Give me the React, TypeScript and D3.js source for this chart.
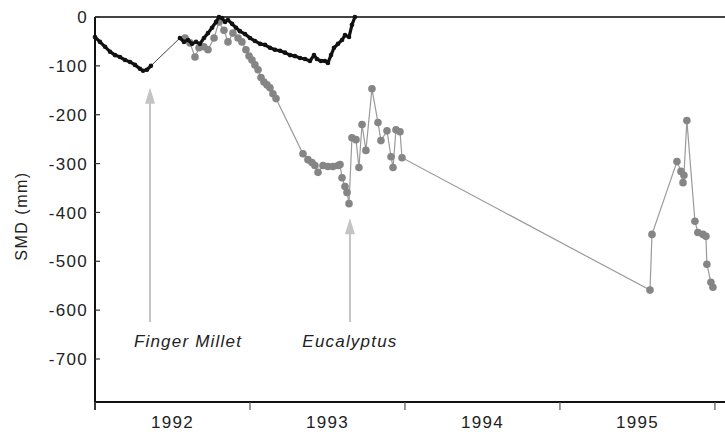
import React, { useEffect, useRef } from 'react';
import * as d3 from 'd3';

// soil moisture deficit, finger millet plot (black) - decimal years
const milletEarlyYears = [1992.0, 1992.032, 1992.065, 1992.097, 1992.129, 1992.161, 1992.194, 1992.226, 1992.258, 1992.29, 1992.31, 1992.335, 1992.361];
const milletEarlySmd = [-41, -51, -61, -71, -78, -82, -88, -92, -98, -106, -110, -108, -100];

const milletLateYears = [
  1992.548, 1992.574, 1992.6, 1992.626, 1992.652, 1992.677, 1992.703, 1992.729, 1992.755, 1992.781,
  1992.8, 1992.819, 1992.839, 1992.858, 1992.884, 1992.91, 1992.935, 1992.968, 1993.0, 1993.032,
  1993.065, 1993.097, 1993.129, 1993.161, 1993.194, 1993.226, 1993.258, 1993.29, 1993.323, 1993.355,
  1993.387, 1993.413, 1993.432, 1993.458, 1993.484, 1993.503, 1993.523, 1993.542, 1993.568, 1993.594,
  1993.613, 1993.639, 1993.658, 1993.677,
];
const milletLateSmd = [
  -43, -51, -47, -55, -51, -55, -43, -33, -22, -10,
  0, -2, -10, -6, -14, -22, -29, -35, -43, -49,
  -55, -57, -63, -67, -69, -73, -78, -80, -84, -86,
  -90, -78, -86, -90, -90, -94, -78, -63, -55, -47,
  -37, -41, -16, 0,
];

// eucalyptus plot (grey circles)
const eucYears = [
  1992.581, 1992.613, 1992.645, 1992.671, 1992.703, 1992.729, 1992.768, 1992.8, 1992.832, 1992.858,
  1992.89, 1992.923, 1992.948, 1992.974, 1992.994, 1993.013, 1993.032, 1993.052, 1993.071, 1993.09,
  1993.11, 1993.129, 1993.148, 1993.168, 1993.342, 1993.374, 1993.4, 1993.419, 1993.439, 1993.471,
  1993.503, 1993.535, 1993.568, 1993.581, 1993.594, 1993.613, 1993.626, 1993.639, 1993.658, 1993.684,
  1993.703, 1993.723, 1993.748, 1993.787, 1993.826, 1993.845, 1993.884, 1993.91, 1993.923, 1993.942,
  1993.968, 1993.981, 1995.581, 1995.594, 1995.755, 1995.781, 1995.794, 1995.8, 1995.819, 1995.871,
  1995.89, 1995.923, 1995.942, 1995.948, 1995.974, 1995.987,
];
const eucSmd = [
  -43, -53, -82, -63, -61, -67, -43, -10, -27, -51,
  -33, -43, -51, -67, -80, -88, -98, -108, -124, -133,
  -139, -145, -157, -167, -280, -292, -298, -304, -318, -304,
  -306, -306, -304, -302, -329, -347, -359, -382, -247, -251,
  -308, -220, -273, -147, -216, -253, -233, -286, -308, -231,
  -235, -288, -559, -445, -296, -316, -339, -324, -212, -418,
  -441, -445, -449, -506, -543, -553,
];

const yTicks = [0, -100, -200, -300, -400, -500, -600, -700];
const yearTicks = [1992, 1993, 1994, 1995, 1996];
const yearLabels = ['1992', '1993', '1994', '1995'];

// annotation arrows: where they point and their labels
const arrowYears = [1992.355, 1993.645];
const arrowTipSmd = [-145, -412];
const arrowNames = ['Finger Millet', 'Eucalyptus'];
const arrowLabelYears = [1992.6, 1993.645];

const App = () => {
  const svgRef = useRef<SVGSVGElement>(null);
  const width = 725;
  const height = 435;

  useEffect(() => {
    const left = 95, right = 725, top = 17, bottom = 402;
    const font = '"Liberation Sans", Arial, sans-serif';

    const x = d3.scaleLinear().domain([1992, 1996.065]).range([left, right]);
    const y = d3.scaleLinear().domain([-788, 0]).range([bottom, top]);

    const svg = d3.select(svgRef.current);
    svg.selectAll('*').remove();

    const toPts = (xs: number[], ys: number[]) => xs.map((d, i) => [d, ys[i]] as [number, number]);
    const line = d3.line<[number, number]>().x(d => x(d[0])).y(d => y(d[1]));

    // axes frame
    svg.append('line').attr('x1', left).attr('x2', right).attr('y1', top).attr('y2', top)
      .attr('stroke', '#444').attr('stroke-width', 2);
    svg.append('line').attr('x1', left).attr('x2', right).attr('y1', bottom).attr('y2', bottom)
      .attr('stroke', '#111').attr('stroke-width', 2);
    svg.append('line').attr('x1', left).attr('x2', left).attr('y1', top).attr('y2', bottom + 8)
      .attr('stroke', '#111').attr('stroke-width', 2);

    // y ticks + labels
    const yg = svg.append('g');
    yTicks.forEach(t => {
      yg.append('line').attr('x1', left).attr('x2', left + 5).attr('y1', y(t)).attr('y2', y(t))
        .attr('stroke', '#333').attr('stroke-width', 1.2);
      yg.append('text').attr('x', 88).attr('y', y(t)).attr('dy', '0.36em')
        .attr('text-anchor', 'end').attr('font-family', font).attr('font-size', 17)
        .attr('letter-spacing', 1.3).attr('fill', '#222').text(t);
    });

    // x ticks at year starts, labels at mid year
    yearTicks.forEach(t => {
      svg.append('line').attr('x1', x(t)).attr('x2', x(t)).attr('y1', bottom).attr('y2', bottom + 8)
        .attr('stroke', '#555').attr('stroke-width', 1.2);
    });
    yearLabels.forEach((t, i) => {
      svg.append('text').attr('x', x(yearTicks[i] + 0.5)).attr('y', 428)
        .attr('text-anchor', 'middle').attr('font-family', font).attr('font-size', 17)
        .attr('letter-spacing', 1.3).attr('fill', '#222').text(t);
    });

    // y axis title
    svg.append('text').attr('transform', 'translate(27,216) rotate(-90)')
      .attr('text-anchor', 'middle').attr('font-family', font).attr('font-size', 16)
      .attr('letter-spacing', 1.5).attr('fill', '#222').text('SMD (mm)');

    // arrows
    arrowYears.forEach((a, i) => {
      const ax = x(a);
      const tip = y(arrowTipSmd[i]);
      svg.append('line').attr('x1', ax).attr('x2', ax).attr('y1', tip + 12).attr('y2', 322)
        .attr('stroke', '#c4c4c4').attr('stroke-width', 2);
      svg.append('path')
        .attr('d', `M${ax},${tip} L${ax - 5},${tip + 16} L${ax + 5},${tip + 16} Z`)
        .attr('fill', '#c4c4c4');
      svg.append('text').attr('x', x(arrowLabelYears[i])).attr('y', 347)
        .attr('text-anchor', 'middle').attr('font-family', font).attr('font-size', 17)
        .attr('font-style', 'italic').attr('letter-spacing', 1.2).attr('fill', '#222')
        .text(arrowNames[i]);
    });

    // eucalyptus line + markers
    const euc = toPts(eucYears, eucSmd);
    svg.append('path').attr('d', line(euc)).attr('fill', 'none')
      .attr('stroke', '#9a9a9a').attr('stroke-width', 1.2);
    svg.append('g').selectAll('circle').data(euc).join('circle')
      .attr('cx', d => x(d[0])).attr('cy', d => y(d[1])).attr('r', 3.8)
      .attr('fill', '#858585');

    // finger millet: thin connector through the gap, thick measured stretches
    const early = toPts(milletEarlyYears, milletEarlySmd);
    const late = toPts(milletLateYears, milletLateSmd);
    svg.append('path').attr('d', line(early.concat(late))).attr('fill', 'none')
      .attr('stroke', '#444').attr('stroke-width', 1);
    [early, late].forEach(seg => {
      svg.append('path').attr('d', line(seg)).attr('fill', 'none')
        .attr('stroke', '#111').attr('stroke-width', 3.2).attr('stroke-linejoin', 'round');
      svg.append('g').selectAll('circle').data(seg).join('circle')
        .attr('cx', d => x(d[0])).attr('cy', d => y(d[1])).attr('r', 2.3)
        .attr('fill', '#111');
    });
  }, []);

  return (
    <svg ref={svgRef} width={width} height={height}
      style={{ position: 'absolute', left: 0, top: 0, background: '#fff' }} />
  );
};

export default App;
